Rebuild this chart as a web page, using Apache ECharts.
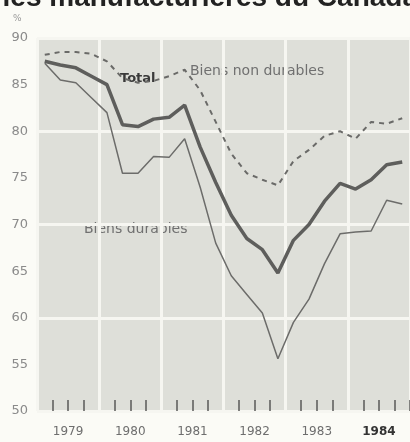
<!DOCTYPE html>
<html><head><meta charset="utf-8">
<script src="https://cdn.jsdelivr.net/npm/echarts@6/dist/echarts.min.js"></script>
<style>html,body{margin:0;padding:0;background:#fbfbf6}#c{width:410px;height:442px}</style>
</head><body><div id="c"></div><script>
const years = ['1979','1980','1981','1982','1983','1984'];
const quarters = ['79T1','79T2','79T3','79T4','80T1','80T2','80T3','80T4','81T1','81T2','81T3','81T4',
                  '82T1','82T2','82T3','82T4','83T1','83T2','83T3','83T4','84T1','84T2','84T3','84T4'];
const total = [87.5,87.1,86.8,85.9,85.0,80.7,80.5,81.3,81.5,82.8,78.3,74.5,71.0,68.5,67.3,64.8,68.3,70.0,72.5,74.4,73.8,74.8,76.4,76.7];
const durables = [87.3,85.5,85.2,83.6,82.0,75.5,75.5,77.3,77.2,79.2,74.0,68.0,64.5,62.5,60.5,55.6,59.5,62.0,65.8,69.0,69.2,69.3,72.6,72.2];
const nonDurables = [88.2,88.5,88.5,88.3,87.5,85.7,85.2,85.4,85.9,86.6,84.4,81.0,77.6,75.5,74.8,74.2,76.8,78.0,79.5,80.0,79.2,81.0,80.8,81.4];

const chart = echarts.init(document.getElementById('c'), null, {renderer:'canvas'});
const font = 'DejaVu Sans';
chart.setOption({
  backgroundColor: '#fbfbf6',
  animation: false,
  grid: {left: 37, top: 38, width: 378, bottom: 31, show: true, backgroundColor: '#dedfd9', borderWidth: 0},
  xAxis: [
    {type: 'category', data: quarters, boundaryGap: true,
     axisLine: {show: false},
     axisTick: {show: true, inside: true, length: 11, interval: (i) => i % 4 !== 0,
                lineStyle: {color: '#5a5a58', width: 1.5}},
     axisLabel: {show: false},
     splitLine: {show: true, interval: (i) => i % 4 === 0, lineStyle: {color: '#f6f6f1', width: 3}}},
    {type: 'category', data: years, boundaryGap: true, position: 'bottom',
     axisLine: {show: false}, axisTick: {show: false}, splitLine: {show: false},
     axisLabel: {show: true, interval: 0, margin: 15, fontFamily: font, fontSize: 12, color: '#6e6e6e',
       formatter: (v) => v === '1984' ? '{b|' + v + '}' : v,
       rich: {b: {fontFamily: font, fontSize: 12, color: '#333', fontWeight: 'bold'}}}}
  ],
  yAxis: [
    {type: 'value', min: 50, max: 90, interval: 5,
     axisLine: {show: false}, axisTick: {show: false}, splitLine: {show: false},
     axisLabel: {margin: 9, fontFamily: font, fontSize: 13, color: '#8a8a8a'}},
    {type: 'value', min: 50, max: 90, interval: 10, position: 'left',
     axisLine: {show: false}, axisTick: {show: false}, axisLabel: {show: false},
     splitLine: {show: true, lineStyle: {color: '#f6f6f1', width: 3}}}
  ],
  series: [
    {name: 'Biens non durables', type: 'line', data: nonDurables, symbol: 'none',
     lineStyle: {color: '#6a6a68', width: 2, type: [5, 5]}},
    {name: 'Biens durables', type: 'line', data: durables, symbol: 'none',
     lineStyle: {color: '#6c6c6a', width: 1.5}},
    {name: 'Total', type: 'line', data: total, symbol: 'none',
     lineStyle: {color: '#5e5e5c', width: 3.5}}
  ],
  graphic: [
    {type: 'text', x: 418, y: 12, style: {text: 'Utilisation de la capacité des industries manufacturières du Canada',
      font: 'bold 28px "Liberation Sans"', fill: '#222', align: 'right', verticalAlign: 'bottom'}},
    {type: 'text', x: 13, y: 19, style: {text: '%', font: '9px "DejaVu Sans"', fill: '#999', verticalAlign: 'middle'}},
    {type: 'text', x: 120, y: 79, style: {text: 'Total', font: 'bold 13px "DejaVu Sans"', fill: '#3a3a3a', verticalAlign: 'middle'}},
    {type: 'text', x: 190, y: 71, style: {text: 'Biens non durables', font: '14px "DejaVu Sans"', fill: '#707070', verticalAlign: 'middle'}},
    {type: 'text', x: 84, y: 229, style: {text: 'Biens durables', font: '14px "DejaVu Sans"', fill: '#707070', verticalAlign: 'middle'}}
  ]
});
</script></body></html>
